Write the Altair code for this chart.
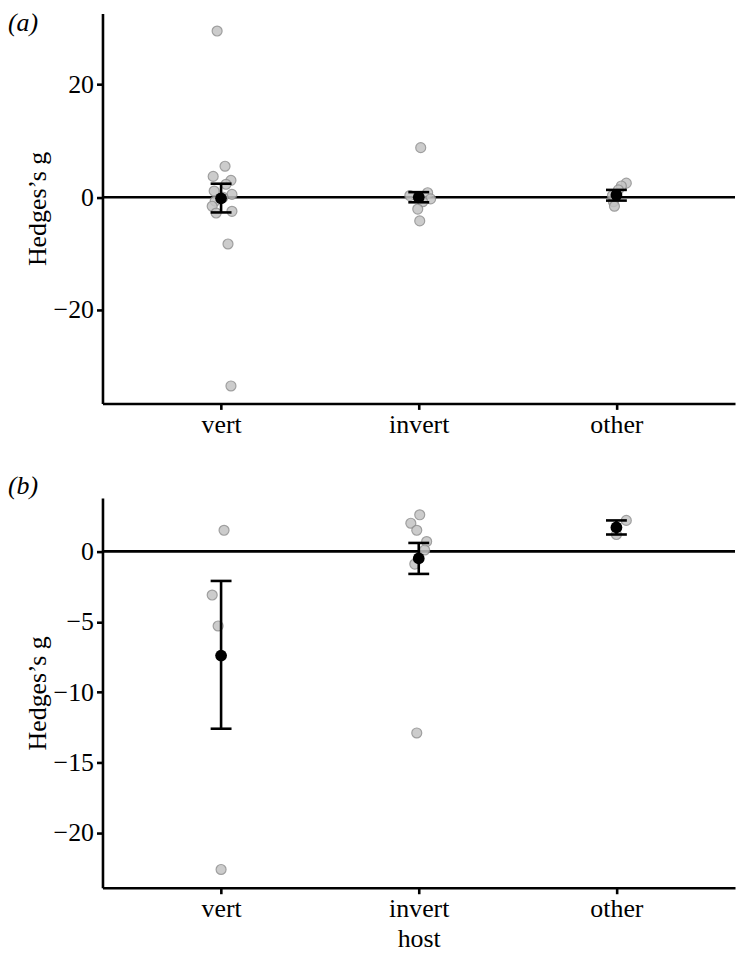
import altair as alt
import pandas as pd

FONT = "Liberation Serif"

categories = ["vert", "invert", "other"]

# ---- panel (a): individual effect sizes ----
a_cat = ["vert"] * 14 + ["invert"] * 7 + ["other"] * 6
a_jitter = [-0.02, 0.02, -0.04, 0.05, 0.025, -0.035, 0.055, 0.01, -0.03, -0.045, 0.055, -0.025, 0.035, 0.05,
            0.01, 0.045, -0.045, 0.06, 0.02, -0.005, 0.005,
            0.05, 0.025, 0.01, -0.02, -0.015, -0.01]
a_g = [29.5, 5.5, 3.7, 3.0, 2.3, 1.1, 0.5, 0.0, -0.7, -1.6, -2.5, -2.8, -8.3, -33.5,
       8.8, 0.8, 0.3, -0.3, -0.8, -2.1, -4.2,
       2.5, 2.0, 1.3, 0.3, -0.8, -1.6]
# ---- panel (a): means and intervals ----
a_mean = [-0.2, 0.0, 0.4]
a_lo = [-2.7, -0.9, -0.6]
a_hi = [2.4, 0.9, 1.3]

# ---- panel (b): individual effect sizes ----
b_cat = ["vert"] * 4 + ["invert"] * 7 + ["other"] * 2
b_jitter = [0.015, -0.045, -0.015, 0.0,
            0.005, -0.04, -0.01, 0.04, 0.03, -0.02, -0.01,
            0.05, 0.0]
b_g = [1.5, -3.1, -5.3, -22.6,
       2.6, 2.0, 1.5, 0.7, 0.1, -0.9, -12.9,
       2.2, 1.2]
# ---- panel (b): means and intervals ----
b_mean = [-7.4, -0.5, 1.7]
b_lo = [-12.6, -1.6, 1.2]
b_hi = [-2.1, 0.6, 2.2]

a_domain = [-36.6, 32.6]
b_domain = [-23.9, 3.8]
a_ticks = [-20, 0, 20]
b_ticks = [-20, -15, -10, -5, 0]


def make_points(cats, jit, g):
    return pd.DataFrame({
        "host": cats,
        "pos": [categories.index(c) + 1 + j for c, j in zip(cats, jit)],
        "g": g,
    })


def make_summary(mean, lo, hi):
    return pd.DataFrame({
        "host": categories,
        "pos": [i + 1 for i in range(len(categories))],
        "mean": mean,
        "lo": lo,
        "hi": hi,
    })


label_expr = " : ".join(
    f"datum.value == {i + 1} ? '{c}'" for i, c in enumerate(categories[:-1])
) + f" : '{categories[-1]}'"


def panel(pts, summ, domain, ticks, tag, xtitle):
    xs = alt.Scale(domain=[0.4, 3.6], nice=False, zero=False)
    ys = alt.Scale(domain=domain, nice=False, zero=False)
    xax = alt.Axis(values=[1, 2, 3], labelExpr=label_expr, title=xtitle)
    yax = alt.Axis(values=ticks, title="Hedges’s g")

    zero = alt.Chart(pd.DataFrame({"z": [0]})).mark_rule(
        color="black", strokeWidth=2.6
    ).encode(y=alt.Y("z:Q", scale=ys, axis=yax))

    points = alt.Chart(pts).mark_circle(
        color="#c4c4c4", stroke="#8f8f8f", strokeWidth=1.2, size=100, opacity=0.85
    ).encode(
        x=alt.X("pos:Q", scale=xs, axis=xax),
        y=alt.Y("g:Q", scale=ys, axis=yax),
    )

    bars = alt.Chart(summ).mark_rule(color="black", strokeWidth=2.6).encode(
        x=alt.X("pos:Q", scale=xs, axis=xax),
        y=alt.Y("lo:Q", scale=ys, axis=yax),
        y2="hi:Q",
    )

    caps = alt.Chart(summ).transform_fold(["lo", "hi"], as_=["end", "val"]).mark_tick(
        color="black", orient="horizontal", size=21, thickness=2.6, opacity=1
    ).encode(
        x=alt.X("pos:Q", scale=xs, axis=xax),
        y=alt.Y("val:Q", scale=ys, axis=yax),
    )

    means = alt.Chart(summ).mark_circle(color="black", size=140, opacity=1).encode(
        x=alt.X("pos:Q", scale=xs, axis=xax),
        y=alt.Y("mean:Q", scale=ys, axis=yax),
    )

    label = alt.Chart(pd.DataFrame({"t": [tag]})).mark_text(
        font=FONT, fontSize=26, fontStyle="italic", align="left", baseline="top", color="black"
    ).encode(
        text="t:N",
        x=alt.value(-95),
        y=alt.value(-3 if tag == "(a)" else -25),
    )

    return alt.layer(zero, points, bars, caps, means, label).properties(width=636, height=392)


pa = panel(make_points(a_cat, a_jitter, a_g), make_summary(a_mean, a_lo, a_hi),
           a_domain, a_ticks, "(a)", None)
pb = panel(make_points(b_cat, b_jitter, b_g), make_summary(b_mean, b_lo, b_hi),
           b_domain, b_ticks, "(b)", "host")

chart = alt.vconcat(pa, pb, spacing=36).properties(padding=0).configure_view(
    stroke=None
).configure_axis(
    grid=False,
    domainColor="black",
    domainWidth=2.6,
    tickColor="black",
    tickWidth=2.6,
    tickSize=6,
    labelFont=FONT,
    labelFontSize=26,
    labelColor="black",
    labelPadding=3,
    titleFont=FONT,
    titleFontSize=26,
    titleFontWeight="normal",
    titleColor="black",
    titlePadding=3,
).configure_axisX(titlePadding=4, labelPadding=2)

chart.save("out.html", embed_options={"renderer": "svg", "actions": False})
